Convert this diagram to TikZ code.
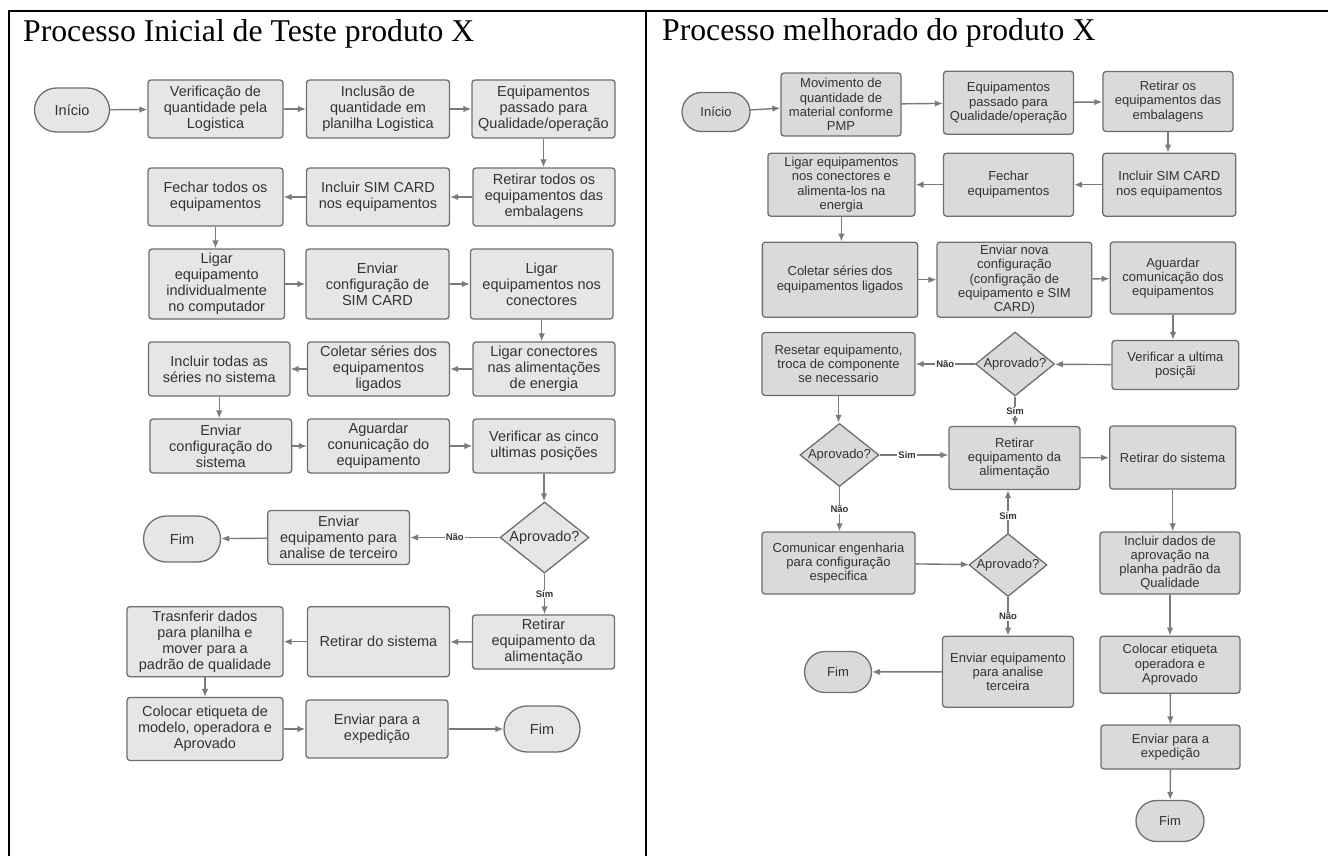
\documentclass[tikz,border=0pt]{standalone}
\usepackage{fontspec}
\setmainfont{Liberation Serif}
\setsansfont{Liberation Sans}
\usepackage{tikz}
\usepackage{xcolor}
\usetikzlibrary{shapes,shapes.geometric,arrows.meta,positioning,calc}

\definecolor{borda}{HTML}{6E6E6E}
\definecolor{fundoA}{HTML}{E6E6E6}
\definecolor{fundoB}{HTML}{DADADA}
\definecolor{texto}{HTML}{333333}
\definecolor{cinzaseta}{HTML}{7A7A7A}

\begin{document}
\begin{tikzpicture}[x=1pt, y=-1pt,
  wh/.style 2 args={minimum width=#1pt, minimum height=#2pt},
  caixaA/.style={rectangle, draw=borda, fill=fundoA, rounded corners=3pt, line width=1.3pt, align=center, text=texto, inner sep=1.5pt, font=\sffamily\fontsize{14.5}{16}\selectfont},
  caixaB/.style={caixaA, fill=fundoB, font=\sffamily\fontsize{13}{14.3}\selectfont},
  termA/.style={rounded rectangle, draw=borda, fill=fundoA, line width=1.3pt, text=texto, inner sep=1.5pt, font=\sffamily\fontsize{14.5}{16}\selectfont},
  termB/.style={termA, fill=fundoB, font=\sffamily\fontsize{13}{14.3}\selectfont},
  decA/.style={diamond, aspect=1.25, draw=borda, fill=fundoA, line width=1.3pt, inner sep=0pt, text=texto, font=\sffamily\fontsize{14.5}{16}\selectfont},
  decB/.style={decA, fill=fundoB, font=\sffamily\fontsize{13}{14.3}\selectfont},
  fluxo/.style={draw=cinzaseta, line width=1.4pt, -{Latex[length=8pt,width=6.5pt]}},
  rotulo/.style={fill=white, inner sep=1pt, text=texto, font=\sffamily\bfseries\fontsize{9.5}{10}\selectfont},
  titulo/.style={anchor=base west, inner sep=0pt, font=\fontsize{31.7}{34}\selectfont}]
\useasboundingbox (0,0) rectangle (1328,856);

\draw[line width=2pt] (9,856) |- (1328,11);
\draw[line width=2pt] (646,11) -- (646,856);

\node[titulo] (titA) at (23,41.5) {Processo Inicial de Teste produto X};
\node[titulo] (titB) at (662,40.5) {Processo melhorado do produto X};

\node[termA, wh={78}{44}] (iniA) at (72,110) {Início};
\node[caixaA, wh={135}{58}] (verif) at (215.5,109) {Verificação de\\quantidade pela\\Logistica};
\node[caixaA, wh={143}{58}] (incl) at (378,109) {Inclusão de\\quantidade em\\planilha Logistica};
\node[caixaA, wh={143}{58}] (passA) at (543.5,109) {Equipamentos\\passado para\\Qualidade/operação};

\node[caixaA, wh={135}{58}] (fechA) at (215.5,197) {Fechar todos os\\equipamentos};
\node[caixaA, wh={143}{58}] (simA) at (378,197) {Incluir SIM CARD\\nos equipamentos};
\node[caixaA, wh={142}{58}] (retA) at (544,197) {Retirar todos os\\equipamentos das\\embalagens};

\node[caixaA, wh={135.5}{70}] (ligA) at (216.7,284) {Ligar\\equipamento\\individualmente\\no computador};
\node[caixaA, wh={143}{70}] (cfgA) at (377.5,284) {Enviar\\configuração de\\SIM CARD};
\node[caixaA, wh={142.5}{70}] (conA) at (541.7,284) {Ligar\\equipamentos nos\\conectores};

\node[caixaA, wh={141.5}{54}] (serA) at (219.2,369) {Incluir todas as\\séries no sistema};
\node[caixaA, wh={142}{54}] (colA) at (378.5,369) {Coletar séries dos\\equipamentos\\ligados};
\node[caixaA, wh={142}{54}] (aliA) at (544,369) {Ligar conectores\\nas alimentações\\de energia};

\node[caixaA, wh={141.7}{54}] (envA) at (220.8,446) {Enviar\\configuração do\\sistema};
\node[caixaA, wh={142}{54}] (agA) at (378.5,446) {Aguardar\\conunicação do\\equipamento};
\node[caixaA, wh={142}{54}] (vcA) at (544,446) {Verificar as cinco\\ultimas posições};

\node[decA, wh={89}{71}] (apA) at (544.5,537.5) {Aprovado?};
\node[caixaA, wh={141.8}{54}] (terA) at (338.6,537.5) {Enviar\\equipamento para\\analise de terceiro};
\node[termA, wh={80}{46}] (fimA1) at (182,539) {Fim};

\node[caixaA, wh={142}{54}] (tirA) at (543.5,642) {Retirar\\equipamento da\\alimentação};
\node[caixaA, wh={142}{70}] (sisA) at (378.5,641.7) {Retirar do sistema};
\node[caixaA, wh={156}{70}] (trA) at (205,641.7) {Trasnferir dados\\para planilha e\\mover para a\\padrão de qualidade};

\node[caixaA, wh={156}{63}] (etA) at (205,729) {Colocar etiqueta de\\modelo, operadora e\\Aprovado};
\node[caixaA, wh={142}{58}] (expA) at (377,729) {Enviar para a\\expedição};
\node[termA, wh={79}{46}] (fimA2) at (542,729) {Fim};

\draw[fluxo] (iniA) -- (verif);
\draw[fluxo] (verif) -- (incl);
\draw[fluxo] (incl) -- (passA);
\draw[fluxo] (passA) -- (passA |- retA.north);
\draw[fluxo] (retA) -- (simA);
\draw[fluxo] (simA) -- (fechA);
\draw[fluxo] (fechA) -- (fechA |- ligA.north);
\draw[fluxo] (ligA) -- (cfgA);
\draw[fluxo] (cfgA) -- (conA);
\draw[fluxo] (conA) -- (conA |- aliA.north);
\draw[fluxo] (aliA) -- (colA);
\draw[fluxo] (colA) -- (serA);
\draw[fluxo] (serA) -- (serA |- envA.north);
\draw[fluxo] (envA) -- (agA);
\draw[fluxo] (agA) -- (vcA);
\draw[fluxo] (vcA) -- (vcA |- apA.north);
\draw[fluxo] (apA) -- node[rotulo]{Não} (terA);
\draw[fluxo] (terA) -- (fimA1);
\draw[fluxo] (apA) -- node[rotulo]{Sim} (apA |- tirA.north);
\draw[fluxo] (tirA) -- (sisA);
\draw[fluxo] (sisA) -- (trA);
\draw[fluxo] (trA) -- (trA |- etA.north);
\draw[fluxo] (etA) -- (expA);
\draw[fluxo] (expA) -- (fimA2);

\node[termB, wh={71}{39}] (iniB) at (716,112) {Início};
\node[caixaB, wh={120}{63}] (movB) at (841,104.5) {Movimento de\\quantidade de\\material conforme\\PMP};
\node[caixaB, wh={130}{63}] (passB) at (1008.5,102.7) {Equipamentos\\passado para\\Qualidade/operação};
\node[caixaB, wh={130}{60}] (retB) at (1168,101.5) {Retirar os\\equipamentos das\\embalagens};

\node[caixaB, wh={147}{63}] (ligB) at (841.4,184.7) {Ligar equipamentos\\nos conectores e\\alimenta-los na\\energia};
\node[caixaB, wh={130}{63}] (fechB) at (1008.5,184.7) {Fechar\\equipamentos};
\node[caixaB, wh={133}{63}] (simB) at (1169.3,184.7) {Incluir SIM CARD\\nos equipamentos};

\node[caixaB, wh={155.3}{75}] (colB) at (840,279.7) {Coletar séries dos\\equipamentos ligados};
\node[caixaB, wh={154.8}{75}] (cfgB) at (1014.4,279.7) {Enviar nova\\configuração\\(configração de\\equipamento e SIM\\CARD)};
\node[caixaB, wh={125.5}{72}] (agB) at (1173,278) {Aguardar\\comunicação dos\\equipamentos};

\node[caixaB, wh={153}{63}] (resB) at (838.5,364) {Resetar equipamento,\\troca de componente\\se necessario};
\node[decB, wh={79}{64}] (apB1) at (1015,364) {Aprovado?};
\node[caixaB, wh={126.7}{49}] (vuB) at (1175.4,365) {Verificar a ultima\\posiçãi};

\node[decB, wh={79}{63}] (apB2) at (839.5,455) {Aprovado?};
\node[caixaB, wh={131}{63}] (tirB) at (1014.5,458) {Retirar\\equipamento da\\alimentação};
\node[caixaB, wh={126}{63}] (sisB) at (1172.7,457.5) {Retirar do sistema};

\node[caixaB, wh={153}{62}] (comB) at (838.5,563) {Comunicar engenharia\\para configuração\\especifica};
\node[decB, wh={78}{63}] (apB3) at (1008,565) {Aprovado?};
\node[caixaB, wh={140}{62}] (dadB) at (1170,563) {Incluir dados de\\aprovação na\\planha padrão da\\Qualidade};

\node[caixaB, wh={131}{71}] (terB) at (1008,671.7) {Enviar equipamento\\para analise\\terceira};
\node[termB, wh={70}{41}] (fimB1) at (838,672) {Fim};
\node[caixaB, wh={140}{57}] (etB) at (1170,664.7) {Colocar etiqueta\\operadora e\\Aprovado};

\node[caixaB, wh={139}{44}] (expB) at (1170.5,747) {Enviar para a\\expedição};
\node[termB, wh={71}{41}] (fimB2) at (1170,821) {Fim};

\draw[fluxo] (iniB) -- (movB);
\draw[fluxo] (movB) -- (passB);
\draw[fluxo] (passB) -- (retB);
\draw[fluxo] (retB) -- (retB |- simB.north);
\draw[fluxo] (simB) -- (fechB);
\draw[fluxo] (fechB) -- (ligB);
\draw[fluxo] (ligB) -- (ligB |- colB.north);
\draw[fluxo] (colB) -- (cfgB);
\draw[fluxo] (cfgB) -- (agB);
\draw[fluxo] (agB) -- (agB |- vuB.north);
\draw[fluxo] (vuB) -- (apB1);
\draw[fluxo] (apB1) -- node[rotulo]{Não} (resB);
\draw[fluxo] (apB1) -- node[rotulo]{Sim} (apB1 |- tirB.north);
\draw[fluxo] (resB) -- (resB |- apB2.north);
\draw[fluxo] (apB2) -- node[rotulo, pos=0.4]{Sim} (apB2 -| tirB.west);
\draw[fluxo] (apB2) -- node[rotulo]{Não} (apB2 |- comB.north);
\draw[fluxo] (comB) -- (apB3);
\draw[fluxo] (apB3) -- node[rotulo, pos=0.4]{Sim} (apB3 |- tirB.south);
\draw[fluxo] (apB3) -- node[rotulo]{Não} (apB3 |- terB.north);
\draw[fluxo] (terB) -- (fimB1);
\draw[fluxo] (tirB) -- (sisB);
\draw[fluxo] (sisB) -- (sisB |- dadB.north);
\draw[fluxo] (dadB) -- (etB);
\draw[fluxo] (etB) -- (expB);
\draw[fluxo] (expB) -- (fimB2);
\end{tikzpicture}
\end{document}
